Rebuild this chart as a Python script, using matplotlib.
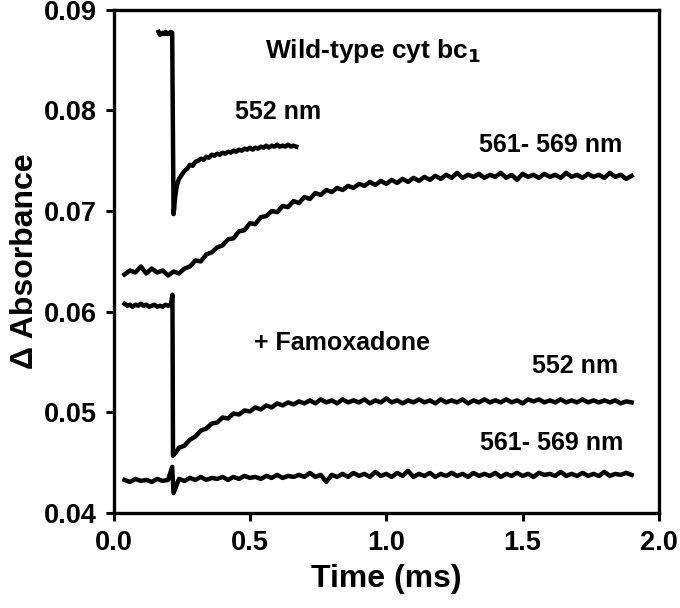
import numpy as np
import matplotlib
matplotlib.use("Agg")
import matplotlib.pyplot as plt

plt.rcParams['font.family'] = ['Liberation Sans', 'DejaVu Sans']
plt.rcParams['font.weight'] = 'bold'

# ---- Wild-type, 552 nm (short trace, flash at ~0.22 ms)
t_wt552 = [0.165, 0.17, 0.175, 0.18, 0.185, 0.19, 0.195, 0.20, 0.205, 0.21,
           0.215, 0.22, 0.2225, 0.225, 0.23, 0.235, 0.24,
           0.25, 0.26, 0.27, 0.28, 0.29, 0.30, 0.31, 0.32, 0.33, 0.34,
           0.35, 0.36, 0.37, 0.38, 0.39, 0.40, 0.41, 0.42, 0.43, 0.44,
           0.45, 0.46, 0.47, 0.48, 0.49, 0.50, 0.51, 0.52, 0.53, 0.54,
           0.55, 0.56, 0.57, 0.58, 0.59, 0.60, 0.61, 0.62, 0.63, 0.64,
           0.65, 0.66, 0.67]
v_wt552 = [0.0878, 0.0875, 0.0876, 0.0877, 0.0876, 0.0878, 0.0876, 0.0877, 0.0876, 0.0878,
           0.0877, 0.0697, 0.0703, 0.0712, 0.0722, 0.0728, 0.0732,
           0.0736, 0.0740, 0.0742, 0.0746, 0.0745, 0.0749, 0.0750, 0.0752, 0.0751, 0.0754,
           0.0753, 0.0756, 0.0755, 0.0757, 0.0756, 0.0758, 0.0757, 0.0759, 0.0758, 0.0760,
           0.0759, 0.0761, 0.0760, 0.0762, 0.0761, 0.0763, 0.0761, 0.0763, 0.0762, 0.0764,
           0.0763, 0.0765, 0.0763, 0.0765, 0.0764, 0.0766, 0.0764, 0.0765, 0.0764, 0.0766,
           0.0764, 0.0765, 0.0764]

# ---- Wild-type, 561-569 nm (0.04 .. 1.90 ms, 0.02 ms step)
v_wt561 = [0.0637, 0.0641, 0.0639, 0.0645, 0.0638, 0.0643, 0.0639, 0.0641, 0.0636, 0.0640,
           0.0638, 0.0643, 0.0645, 0.0651, 0.0650, 0.0657, 0.0659, 0.0664, 0.0666, 0.0672,
           0.0673, 0.0680, 0.0681, 0.0688, 0.0687, 0.0694, 0.0695, 0.0700, 0.0699, 0.0705,
           0.0704, 0.0710, 0.0708, 0.0714, 0.0712, 0.0718, 0.0716, 0.0721, 0.0719, 0.0723,
           0.0721, 0.0725, 0.0723, 0.0727, 0.0725, 0.0729, 0.0726, 0.0730, 0.0727, 0.0731,
           0.0728, 0.0732, 0.0729, 0.0733, 0.0730, 0.0734, 0.0731, 0.0735, 0.0732, 0.0736,
           0.0733, 0.0738, 0.0733, 0.0736, 0.0734, 0.0737, 0.0733, 0.0736, 0.0734, 0.0738,
           0.0733, 0.0736, 0.0731, 0.0737, 0.0734, 0.0736, 0.0733, 0.0737, 0.0734, 0.0736,
           0.0733, 0.0738, 0.0734, 0.0736, 0.0733, 0.0737, 0.0734, 0.0736, 0.0733, 0.0738,
           0.0734, 0.0736, 0.0732, 0.0735]
t_wt561 = np.linspace(0.04, 1.90, len(v_wt561))

# ---- + Famoxadone, 552 nm
t_fa552_pre = [0.04, 0.05, 0.06, 0.07, 0.08, 0.09, 0.10, 0.11, 0.12, 0.13,
               0.14, 0.15, 0.16, 0.17, 0.18, 0.19, 0.20, 0.21, 0.216, 0.218, 0.23]
v_fa552_pre = [0.0608, 0.0606, 0.0607, 0.0605, 0.0607, 0.0606, 0.0608, 0.0606, 0.0607, 0.0605,
               0.0606, 0.0607, 0.0605, 0.0606, 0.0605, 0.0607, 0.0606, 0.0607, 0.0617, 0.0457, 0.0461]
v_fa552_post = [0.0465, 0.0467, 0.0473, 0.0476, 0.0482, 0.0484, 0.0489, 0.0490, 0.0495, 0.0494,
                0.0499, 0.0498, 0.0502, 0.0501, 0.0505, 0.0503, 0.0507, 0.0505, 0.0509, 0.0507,
                0.0510, 0.0508, 0.0511, 0.0509, 0.0512, 0.0509, 0.0513, 0.0510, 0.0512, 0.0509,
                0.0513, 0.0510, 0.0512, 0.0510, 0.0513, 0.0509, 0.0512, 0.0510, 0.0514, 0.0510,
                0.0512, 0.0509, 0.0512, 0.0510, 0.0513, 0.0510, 0.0512, 0.0509, 0.0513, 0.0510,
                0.0512, 0.0510, 0.0513, 0.0509, 0.0512, 0.0510, 0.0513, 0.0510, 0.0512, 0.0510,
                0.0513, 0.0510, 0.0512, 0.0509, 0.0513, 0.0511, 0.0513, 0.0510, 0.0512, 0.0510,
                0.0513, 0.0510, 0.0512, 0.0510, 0.0513, 0.0510, 0.0512, 0.0510, 0.0512, 0.0510,
                0.0512, 0.0509, 0.0511, 0.0510]
t_fa552_post = np.linspace(0.24, 1.90, len(v_fa552_post))

# ---- + Famoxadone, 561-569 nm
t_fa561_pre = [0.04, 0.06, 0.08, 0.10, 0.12, 0.14, 0.16, 0.18, 0.20, 0.215, 0.22]
v_fa561_pre = [0.0433, 0.0431, 0.0434, 0.0432, 0.0433, 0.0431, 0.0434, 0.0432, 0.0433, 0.0446, 0.0420]
v_fa561_post = [0.0434, 0.0432, 0.0435, 0.0433, 0.0436, 0.0433, 0.0435, 0.0434, 0.0436, 0.0433,
                0.0436, 0.0434, 0.0437, 0.0435, 0.0436, 0.0434, 0.0437, 0.0435, 0.0438, 0.0435,
                0.0437, 0.0436, 0.0438, 0.0436, 0.0440, 0.0436, 0.0438, 0.0431, 0.0438, 0.0436,
                0.0439, 0.0436, 0.0440, 0.0437, 0.0439, 0.0436, 0.0441, 0.0437, 0.0439, 0.0436,
                0.0440, 0.0437, 0.0442, 0.0436, 0.0439, 0.0437, 0.0440, 0.0436, 0.0439, 0.0437,
                0.0440, 0.0437, 0.0439, 0.0436, 0.0440, 0.0437, 0.0439, 0.0437, 0.0440, 0.0436,
                0.0439, 0.0437, 0.0440, 0.0437, 0.0439, 0.0436, 0.0440, 0.0438, 0.0439, 0.0437,
                0.0441, 0.0437, 0.0439, 0.0437, 0.0440, 0.0437, 0.0439, 0.0437, 0.0441, 0.0437,
                0.0439, 0.0438, 0.0440, 0.0438]
t_fa561_post = np.linspace(0.24, 1.90, len(v_fa561_post))

x_ticks = [0.0, 0.5, 1.0, 1.5, 2.0]
y_ticks = [0.04, 0.05, 0.06, 0.07, 0.08, 0.09]

fig = plt.figure(figsize=(6.8, 6.08), dpi=100)
ax = fig.add_axes([0.167, 0.156, 0.802, 0.828])

lw = 3.2
for tt, vv in [(t_wt552, v_wt552), (t_wt561, v_wt561),
               (np.concatenate([t_fa552_pre, t_fa552_post]), np.concatenate([v_fa552_pre, v_fa552_post])),
               (np.concatenate([t_fa561_pre, t_fa561_post]), np.concatenate([v_fa561_pre, v_fa561_post]))]:
    ax.plot(tt, vv, color='black', lw=lw, solid_joinstyle='round')

ax.set_xlim(0, 2.0)
ax.set_ylim(0.04, 0.09)
ax.set_xticks(x_ticks)
ax.set_yticks(y_ticks)
ax.set_xticklabels([f"{v:.1f}" for v in x_ticks])
ax.set_yticklabels([f"{v:.2f}" for v in y_ticks])
for s in ax.spines.values():
    s.set_linewidth(2.4)
ax.tick_params(direction='out', length=6, width=2.2, labelsize=19.5, pad=6)
for lab in ax.get_xticklabels() + ax.get_yticklabels():
    lab.set_fontweight('bold')

ax.set_xlabel("Time (ms)", fontsize=23, fontweight='bold', labelpad=6)
ax.set_ylabel("\u0394 Absorbance", fontsize=23, fontweight='bold', labelpad=3)

fs = 18
ax.text(0.557, 0.0852, "Wild-type cyt bc$_\\mathbf{1}$", fontsize=19, fontweight='bold', ha='left', va='baseline')
ax.text(0.447, 0.0791, "552 nm", fontsize=fs, fontweight='bold', ha='left', va='baseline')
ax.text(1.340, 0.0759, "561- 569 nm", fontsize=fs, fontweight='bold', ha='left', va='baseline')
ax.text(0.516, 0.0562, "+ Famoxadone", fontsize=fs, fontweight='bold', ha='left', va='baseline')
ax.text(1.535, 0.0539, "552 nm", fontsize=fs, fontweight='bold', ha='left', va='baseline')
ax.text(1.344, 0.0463, "561- 569 nm", fontsize=fs, fontweight='bold', ha='left', va='baseline')

fig.savefig("out.png", dpi=100)
